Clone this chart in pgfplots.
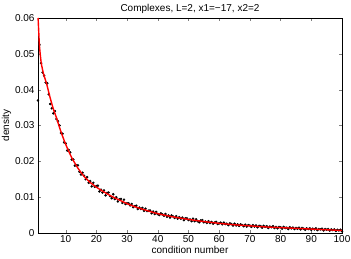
\documentclass[border=0pt]{standalone}
\usepackage{pgfplots}
\pgfplotsset{compat=1.18}
\usepackage{fontspec}
\setmainfont{Liberation Sans}
\begin{document}
\fontsize{10pt}{12pt}\selectfont
\begin{tikzpicture}
\begin{axis}[
  scale only axis, width=304pt, height=215pt,
  xmin=1, xmax=100, ymin=0, ymax=0.06,
  xtick={10,20,...,100},
  ytick={0,0.01,0.02,0.03,0.04,0.05,0.06},
  yticklabels={0,0.01,0.02,0.03,0.04,0.05,0.06},
  tick align=inside, tick pos=both,
  major tick length=3pt,
  scaled ticks=false,
  /pgf/number format/assume math mode=true,
  tick label style={font=\fontsize{10pt}{12pt}\selectfont},
  label style={font=\fontsize{10pt}{12pt}\selectfont},
  xticklabel style={yshift=1pt},
  title style={font=\fontsize{10pt}{12pt}\selectfont, yshift=-5pt},
  xlabel={condition number}, ylabel={density},
  xlabel style={yshift=3pt}, ylabel style={yshift=-3pt},
  title={Complexes, L=2, x1=\textminus17, x2=2},
  axis line style={black, line width=0.5pt},
  clip=false, clip marker paths=true,
]
\addplot[only marks, mark=*, mark size=1.05pt, black] coordinates {
(1,0.0370)(1.5,0.0525)(2,0.0474)(2.5,0.0448)(3,0.0439)(3.5,0.0420)(4,0.0418)(4.5,0.0387)(5,0.0360)(5.5,0.0348)
(6,0.0334)(6.5,0.0340)(7,0.0318)(7.5,0.0312)
(8,0.0300)(8.5,0.0279)(9,0.0277)(9.5,0.0253)(10,0.0250)(10.5,0.0230)(11,0.0232)(11.5,0.0225)(12,0.0205)(12.5,0.0205)
(13,0.0188)(13.5,0.0189)(14,0.0189)(14.5,0.0171)(15,0.0163)(15.5,0.0168)(16,0.0160)(16.5,0.0150)(17,0.0156)(17.5,0.0140)
(18,0.0145)(18.5,0.0130)(19,0.0140)(19.5,0.0129)(20,0.0131)(20.5,0.0132)(21,0.0116)(21.5,0.0121)(22,0.0113)(22.5,0.0119)
(23,0.0105)(23.5,0.0112)(24,0.0113)(24.5,0.0103)(25,0.0097)(25.5,0.0108)(26,0.0095)(26.5,0.0100)(27,0.0088)(27.5,0.0094)
(28,0.0095)(28.5,0.0084)(29,0.0093)(29.5,0.0081)(30,0.0083)
(30.5,0.0083)(31,0.0077)(31.5,0.0081)(32,0.0072)(32.5,0.0075)(33,0.0076)(33.5,0.0067)(34,0.0071)(34.5,0.0067)(35,0.0070)
(35.5,0.0062)(36,0.0068)(36.5,0.0061)(37,0.0062)(37.5,0.0063)(38,0.0055)(38.5,0.0060)(39,0.0053)(39.5,0.0059)(40,0.0053)
(40.5,0.0050)(41,0.0055)(41.5,0.0052)(42,0.0048)(42.5,0.0053)(43,0.0045)(43.5,0.0049)(44,0.0043)(44.5,0.0049)(45,0.0046)
(45.5,0.0042)(46,0.0047)(46.5,0.0040)(47,0.0044)(47.5,0.0040)(48,0.0043)(48.5,0.0036)(49,0.0041)(49.5,0.0041)(50,0.0036)
(50.5,0.0038)(51,0.0033)(51.5,0.0040)(52,0.0033)(52.5,0.0038)(53,0.0033)(53.5,0.0030)(54,0.0035)(54.5,0.0036)(55,0.0030)
(55.5,0.0032)(56,0.0028)(56.5,0.0033)(57,0.0028)(57.5,0.0031)(58,0.0026)(58.5,0.0029)(59,0.0031)(59.5,0.0025)(60,0.0027)
(60.5,0.0029)(61,0.0024)(61.5,0.0029)(62,0.0025)(62.5,0.0026)(63,0.0022)(63.5,0.0027)(64,0.0025)(64.5,0.0021)(65,0.0026)
(65.5,0.0021)(66,0.0024)(66.5,0.0020)(67,0.0024)(67.5,0.0022)(68,0.0019)(68.5,0.0023)(69,0.0018)(69.5,0.0022)(70,0.0021)
(70.5,0.0017)(71,0.0022)(71.5,0.0018)(72,0.0021)(72.5,0.0016)(73,0.0020)(73.5,0.0019)(74,0.0015)(74.5,0.0020)(75,0.0017)
(75.5,0.0019)(76,0.0014)(76.5,0.0018)(77,0.0016)(77.5,0.0019)(78,0.0014)(78.5,0.0017)(79,0.0013)(79.5,0.0017)(80,0.0016)
(80.5,0.0012)(81,0.0017)(81.5,0.0014)(82,0.0015)(82.5,0.0011)(83,0.0016)(83.5,0.0013)(84,0.0015)(84.5,0.0011)(85,0.0014)
(85.5,0.0012)(86,0.0015)(86.5,0.0010)(87,0.0014)(87.5,0.0012)(88,0.0009)(88.5,0.0013)(89,0.0011)(89.5,0.0013)(90,0.0009)
(90.5,0.0012)(91,0.0010)(91.5,0.0013)(92,0.0008)(92.5,0.0011)(93,0.0010)(93.5,0.0012)(94,0.0007)(94.5,0.0011)(95,0.0009)
(95.5,0.0011)(96,0.0007)(96.5,0.0010)(97,0.0008)(97.5,0.0010)(98,0.0006)(98.5,0.0009)(99,0.0007)(99.5,0.0009)(100,0.0005)
};
\addplot[red, line width=1.4pt, smooth, tension=0.5] coordinates {
(1.03,0.0600)(1.25,0.0560)(1.5,0.0520)(2,0.0478)(2.5,0.0455)(3,0.0438)(3.5,0.0425)(4,0.0410)(4.5,0.0393)
(5,0.0376)(6,0.0346)(7,0.0322)(8,0.0295)(9,0.0270)(10,0.0248)(11,0.0228)(12,0.0210)(13,0.0195)(14,0.0181)
(15,0.0169)(16,0.0158)(17,0.0149)(18,0.0141)(20,0.0128)(22,0.0117)(24,0.0107)(26,0.0098)(28,0.0090)(30,0.0082)
(33,0.0072)(36,0.0064)(40,0.0054)(45,0.0045)(50,0.0038)(55,0.0032)(60,0.0027)(65,0.0023)(70,0.0020)(75,0.0017)
(80,0.0015)(85,0.0013)(90,0.0011)(95,0.0009)(100,0.0007)
};
\end{axis}
\pgfresetboundingbox
\path[use as bounding box] ([xshift=-38pt,yshift=-26pt]current axis.south west) rectangle ([xshift=9pt,yshift=18pt]current axis.north east);
\end{tikzpicture}
\end{document}
